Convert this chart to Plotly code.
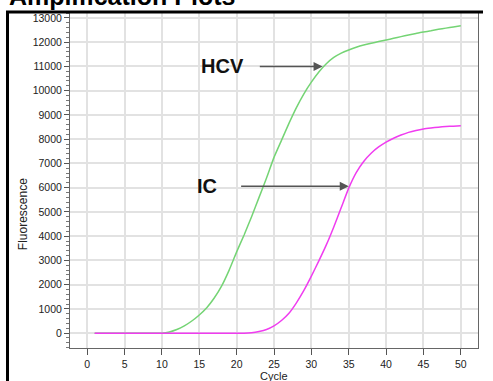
import plotly.graph_objects as go

cycles = list(range(1, 51))

hcv = [0, 0, 0, 0, 0, 0, 0, 0, 0, 0,
       50, 150, 300, 500, 750, 1050, 1450, 1950, 2600, 3350,
       4050, 4800, 5600, 6400, 7250, 7950, 8650, 9300, 9870, 10350,
       10770, 11110, 11370, 11550, 11680, 11790, 11880, 11955, 12025, 12090,
       12160, 12230, 12300, 12360, 12420, 12470, 12530, 12580, 12630, 12680]

ic = [0, 0, 0, 0, 0, 0, 0, 0, 0, 0,
      0, 0, 0, 0, 0, 0, 0, 0, 0, 0,
      0, 20, 70, 150, 300, 520, 820, 1250, 1760, 2350,
      2980, 3640, 4380, 5180, 5980, 6620, 7080, 7420, 7680, 7880,
      8040, 8170, 8280, 8360, 8420, 8460, 8495, 8520, 8535, 8550]

x_ticks = list(range(0, 51, 5))
y_ticks = list(range(0, 13001, 1000))

labels = ["HCV", "IC"]
label_pos = [(18.1, 11000), (16.0, 6060)]
arrows = [((22.9, 11000), (31.5, 11000)), ((20.4, 6060), (35.0, 6060))]

fig = go.Figure()
fig.add_trace(go.Scatter(x=cycles, y=hcv, mode="lines", name="HCV",
                         line=dict(color="#74d474", width=1.5, shape="spline", smoothing=0.5)))
fig.add_trace(go.Scatter(x=cycles, y=ic, mode="lines", name="IC",
                         line=dict(color="#f03cf0", width=1.5, shape="spline", smoothing=0.5)))

for txt, (lx, ly) in zip(labels, label_pos):
    fig.add_annotation(x=lx, y=ly, xref="x", yref="y", text="<b>%s</b>" % txt,
                       showarrow=False, font=dict(family="Liberation Sans, Arial", size=20, color="#111"))

for (tail, head) in arrows:
    fig.add_annotation(x=head[0], y=head[1], ax=tail[0], ay=tail[1],
                       xref="x", yref="y", axref="x", ayref="y", text="",
                       showarrow=True, arrowhead=2, arrowsize=1.2, arrowwidth=1.5,
                       arrowcolor="#555", standoff=0, startstandoff=0)

# axis titles
fig.add_annotation(x=0.5, y=-20 / 339, xref="paper", yref="paper", text="Cycle",
                   showarrow=False, xanchor="center", yanchor="top",
                   font=dict(family="Liberation Sans, Arial", size=11, color="#222"))
fig.add_annotation(x=(23 - 70) / 408, y=(350 - 215) / 339, xref="paper", yref="paper",
                   text="Fluorescence", showarrow=False, textangle=-90,
                   xanchor="center", yanchor="middle",
                   font=dict(family="Liberation Sans, Arial", size=12, color="#222"))

# title (clipped at top)
fig.add_annotation(x=-0.155, y=1.0, xref="paper", yref="paper", text="<b>Amplification Plots</b>",
                   showarrow=False, xanchor="left", yanchor="bottom", yshift=0,
                   font=dict(family="Liberation Sans, Arial", size=25, color="#000"))

fig.update_layout(
    width=493, height=381,
    margin=dict(l=70, r=15, t=11, b=31),
    paper_bgcolor="white", plot_bgcolor="white",
    showlegend=False,
    font=dict(family="Liberation Sans, Arial", size=10.5, color="#222"),
    xaxis=dict(range=[-2.3, 52.3], tickvals=x_ticks, ticks="outside", ticklen=6,
               tickcolor="#555", showline=True, linecolor="#666", linewidth=1, mirror=True,
               showgrid=True, gridcolor="#e2e2e2", gridwidth=1.5, zeroline=False,
               tickfont=dict(size=10.5, color="#222")),
    yaxis=dict(range=[-613, 13245], tickvals=y_ticks, tickformat="d", ticks="outside", ticklen=5,
               tickcolor="#555", showline=True, linecolor="#666", linewidth=1, mirror=True,
               showgrid=True, gridcolor="#e2e2e2", gridwidth=1.5, zeroline=False,
               minor=dict(dtick=200, ticks="outside", ticklen=3, tickcolor="#777", showgrid=False),
               tickfont=dict(size=10.5, color="#222")),
)

# frame lines (left and top)
fig.add_shape(type="line", xref="paper", yref="paper",
              x0=(7.5 - 70) / 408, x1=(7.5 - 70) / 408, y0=1.0, y1=-0.1,
              line=dict(color="#000", width=3))
fig.add_shape(type="line", xref="paper", yref="paper",
              x0=(6 - 70) / 408, x1=(483 - 70) / 408, y0=1.0, y1=1.0,
              line=dict(color="#000", width=3))

fig.write_html("out.html", config={"displayModeBar": False},
               post_script="document.body.style.margin='0';document.body.style.overflow='hidden';")
